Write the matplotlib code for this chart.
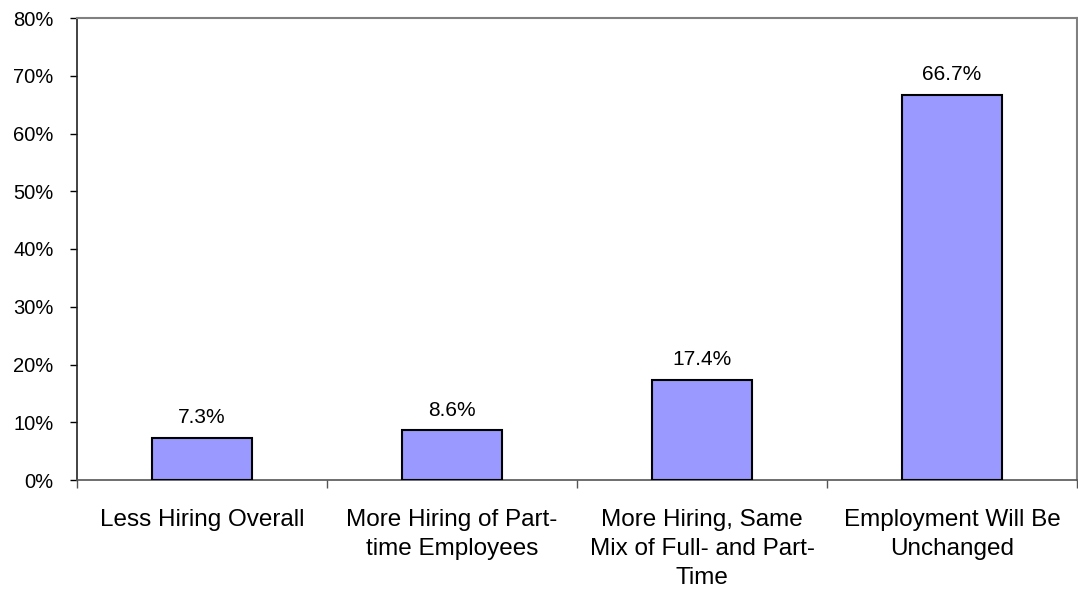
import matplotlib.pyplot as plt
import numpy as np

plt.rcParams['font.family'] = ['Liberation Sans', 'DejaVu Sans']

# Survey responses: expected hiring changes
categories = [
    'Less Hiring Overall',
    'More Hiring of Part-\ntime Employees',
    'More Hiring, Same\nMix of Full- and Part-\nTime',
    'Employment Will Be\nUnchanged',
]
shares = [7.3, 8.6, 17.4, 66.7]

fig = plt.figure(figsize=(10.78, 5.92), dpi=100)
ax = fig.add_axes([77 / 1078, 112 / 592, 1000 / 1078, 462 / 592])

x = np.arange(len(categories))
bars = ax.bar(x, shares, width=0.4, color='#9999FF', edgecolor='black', linewidth=1.5, zorder=3)

for xi, v in zip(x, shares):
    ax.text(xi, v + 1.8, f'{v:.1f}%', ha='center', va='bottom', fontsize=15)

ax.set_xlim(-0.5, len(categories) - 0.5)
ax.set_ylim(0, 80)
ax.set_yticks(range(0, 81, 10))
ax.set_yticklabels([f'{t}%' for t in range(0, 81, 10)], fontsize=14.5)

# category labels centred, tick marks between categories
ax.set_xticks(x)
ax.set_xticklabels(categories, fontsize=17.5, linespacing=1.42)
ax.tick_params(axis='x', length=0, pad=21)
ax.set_xticks(np.arange(-0.5, len(categories)), minor=True)
ax.tick_params(axis='x', which='minor', length=6, width=1, color='#555555', direction='out')
ax.tick_params(axis='y', length=5, width=1, direction='out', pad=12)

for side in ['top', 'right']:
    ax.spines[side].set_color('#808080')
    ax.spines[side].set_linewidth(1.5)
ax.spines['left'].set_color('#222222')
ax.spines['bottom'].set_color('#555555')
ax.spines['left'].set_linewidth(1.2)
ax.spines['bottom'].set_linewidth(1.2)

fig.savefig('out.png', dpi=100)
